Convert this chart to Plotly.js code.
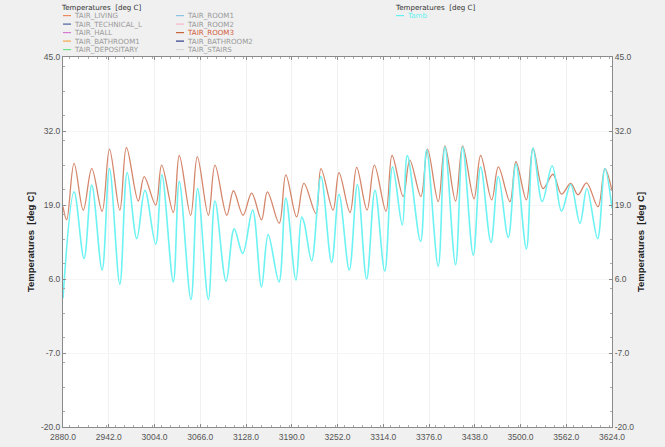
<!DOCTYPE html>
<html>
<head>
<meta charset="utf-8">
<script src="https://cdn.plot.ly/plotly-3.0.1.min.js"></script>
<style>
html,body{margin:0;padding:0;background:#f0f0f0;}
#chart{width:665px;height:447px;}
</style>
</head>
<body>
<div id="chart"></div>
<script>
// ---- data ----
const roomTime = [2880,2885,2895,2907.5,2919,2933,2943,2957,2966,2982,2990,3005.6,3013.7,3029.5,3037.6,3053,3062,3077,3086,3102,3111,3124,3135.6,3149,3157,3173,3182,3196.6,3206.5,3222.8,3229.6,3246,3254,3269,3278,3292,3302,3317.7,3326,3341,3350,3365,3374,3388.5,3397.6,3412,3421.6,3437,3446,3461,3470,3485.7,3493.8,3508,3517,3530.6,3544,3555.6,3568,3578,3589.5,3605,3614.4,3624];
const roomTemp = [18.7,16.4,26.3,18.1,25.4,17.9,28.8,18.1,29.1,19.7,24.0,19.0,26.0,17.7,27.7,17.2,27.5,17.2,26.0,17.2,21.5,17.2,21.1,16.4,21.3,15.8,24.3,16.9,22.8,17.5,25.4,18.1,24.7,17.7,25.6,18.1,26.0,17.9,27.7,20.5,26.9,20.5,28.8,19.6,29.4,19.7,29.4,20.1,27.7,19.9,25.7,19.6,26.6,19.9,29.0,21.9,24.4,20.9,22.8,20.8,22.9,18.7,25.4,21.5];

const ambTime = [2880,2895,2908.5,2919,2933,2943,2957,2967,2980,2991,3005.6,3014,3029.5,3037.6,3053.4,3062.5,3077,3086,3101,3112,3123.5,3137,3149,3158,3172.7,3182,3195.7,3203.4,3207,3217,3229.6,3244,3254,3268,3279,3291.5,3302.8,3316,3326.7,3339.8,3346.6,3364.6,3372.8,3388.5,3397.6,3412,3421.6,3436,3446,3460,3470,3483.4,3493.8,3508,3517,3529.4,3543,3555.6,3568,3580.6,3590,3604.5,3614.4,3624];
const ambTemp = [2.6,21.3,9.6,22.5,7.6,25.4,5.1,24.7,13.1,21.6,12.1,24.3,5.5,23.1,2.4,21.9,2.4,19.7,5.6,14.8,10.5,18.1,4.6,13.8,5.5,20.2,5.8,16.9,15.8,9.2,24.0,8.9,20.9,7.6,22.6,6.0,21.6,7.4,25.7,15.5,27.7,12.6,28.7,8.2,29.2,8.5,29.2,10.2,25.7,12.4,24.0,13.3,26.2,11.3,29.0,19.6,25.9,17.9,22.6,15.8,21.9,13.1,25.4,18.4];

const xTicks = [2880,2942,3004,3066,3128,3190,3252,3314,3376,3438,3500,3562,3624];
const yTicks = [-20,-7,6,19,32,45];

const leftLegendTitle = "Temperatures  [deg C]";
const rightLegendTitle = "Temperatures  [deg C]";
const leftNames = ["TAIR_LIVING","TAIR_TECHNICAL_L","TAIR_HALL","TAIR_BATHROOM1","TAIR_DEPOSITARY",
                   "TAIR_ROOM1","TAIR_ROOM2","TAIR_ROOM3","TAIR_BATHROOM2","TAIR_STAIRS"];
const leftColors = ["#f08a5d","#4a5fa0","#d77ad7","#f2a54a","#6ee08c",
                    "#8cc4e0","#f3b8c8","#c8643a","#2e3a88","#d8d8d8"];
const rightNames = ["Tamb"];
const rightColors = ["#5ff0f0"];

// ---- geometry helpers ----
const W = 665, H = 447;
const M = {l:63, r:53, t:57, b:20};
const pw = W - M.l - M.r, ph = H - M.t - M.b;
const px = x => (x - M.l) / pw;
const py = y => (H - M.b - y) / ph;

const annotations = [];
const shapes = [];
const legFam = "DejaVu Sans, Verdana, sans-serif";
const legSize = 7.1;
const rowY = r => 15.6 + r * 8.5;

annotations.push({xref:"paper", yref:"paper", x:px(60), y:py(7.2), xanchor:"left", yanchor:"middle",
  text:leftLegendTitle, showarrow:false, borderpad:0, font:{family:legFam, size:legSize, color:"#333"}});
annotations.push({xref:"paper", yref:"paper", x:px(394), y:py(7.2), xanchor:"left", yanchor:"middle",
  text:rightLegendTitle, showarrow:false, borderpad:0, font:{family:legFam, size:legSize, color:"#333"}});

leftNames.forEach((n, i) => {
  const col = Math.floor(i / 5), row = i % 5;
  const x0 = col === 0 ? 63 : 176;
  const yy = rowY(row);
  shapes.push({type:"line", xref:"paper", yref:"paper", x0:px(x0), x1:px(x0 + 8), y0:py(yy), y1:py(yy),
    line:{color:leftColors[i], width:1.2}});
  annotations.push({xref:"paper", yref:"paper", x:px(x0 + 10), y:py(yy), xanchor:"left", yanchor:"middle",
    text:n, showarrow:false, borderpad:0,
    font:{family:legFam, size:legSize, color: n === "TAIR_ROOM3" ? "#d0603a" : "#9a9a9a"}});
});
rightNames.forEach((n, i) => {
  const yy = rowY(i);
  shapes.push({type:"line", xref:"paper", yref:"paper", x0:px(396), x1:px(404), y0:py(yy), y1:py(yy),
    line:{color:rightColors[i], width:1.2}});
  annotations.push({xref:"paper", yref:"paper", x:px(406), y:py(yy), xanchor:"left", yanchor:"middle",
    text:n, showarrow:false, borderpad:0, font:{family:legFam, size:legSize, color:rightColors[i]}});
});

const traces = [
  {x:roomTime, y:roomTemp, type:"scatter", mode:"lines", name:"TAIR_ROOM3",
   line:{color:"#d4866a", width:1.3, shape:"spline", smoothing:1}, xaxis:"x", yaxis:"y", showlegend:false},
  {x:ambTime, y:ambTemp, type:"scatter", mode:"lines", name:"Tamb",
   line:{color:"#6cf2f2", width:1.6, shape:"spline", smoothing:1}, xaxis:"x", yaxis:"y2", showlegend:false}
];

const tickFont = {family:"Liberation Sans, Arial, sans-serif", size:8.5, color:"#555"};
const titleFont = {family:"Liberation Sans, Arial, sans-serif", size:9.5, color:"#222", weight:"bold"};

const yCommon = {
  range:[-20,45], tickvals:yTicks, ticktext:yTicks.map(v => v.toFixed(1)),
  tickfont:tickFont, showline:true, linecolor:"#8a8a8a", linewidth:1,
  ticks:"inside", ticklen:3, tickcolor:"#8a8a8a", zeroline:false,
  minor:{ticks:"inside", ticklen:2, tickcolor:"#aaa", dtick:13/3, showgrid:false},
  title:{text:"Temperatures  [deg C]", font:titleFont, standoff:4}
};

const layout = {
  width:W, height:H, margin:M,
  paper_bgcolor:"#f0f0f0", plot_bgcolor:"#ffffff",
  showlegend:false,
  xaxis:{range:[2880,3624], tickvals:xTicks, ticktext:xTicks.map(v => v.toFixed(1)),
    tickfont:tickFont, showline:true, linecolor:"#8a8a8a", mirror:"ticks",
    ticks:"inside", ticklen:3, tickcolor:"#8a8a8a", zeroline:false, ticklabelstandoff:2,
    showgrid:true, gridcolor:"#f1f1f1",
    minor:{ticks:"inside", ticklen:2, tickcolor:"#aaa", dtick:12.4, showgrid:false}},
  yaxis:Object.assign({}, yCommon, {side:"left", showgrid:true, gridcolor:"#f5f5f5"}),
  yaxis2:Object.assign({}, yCommon, {side:"right", overlaying:"y", anchor:"x", showgrid:false}),
  annotations:annotations, shapes:shapes
};

Plotly.newPlot("chart", traces, layout, {displayModeBar:false, staticPlot:true});
</script>
</body>
</html>
